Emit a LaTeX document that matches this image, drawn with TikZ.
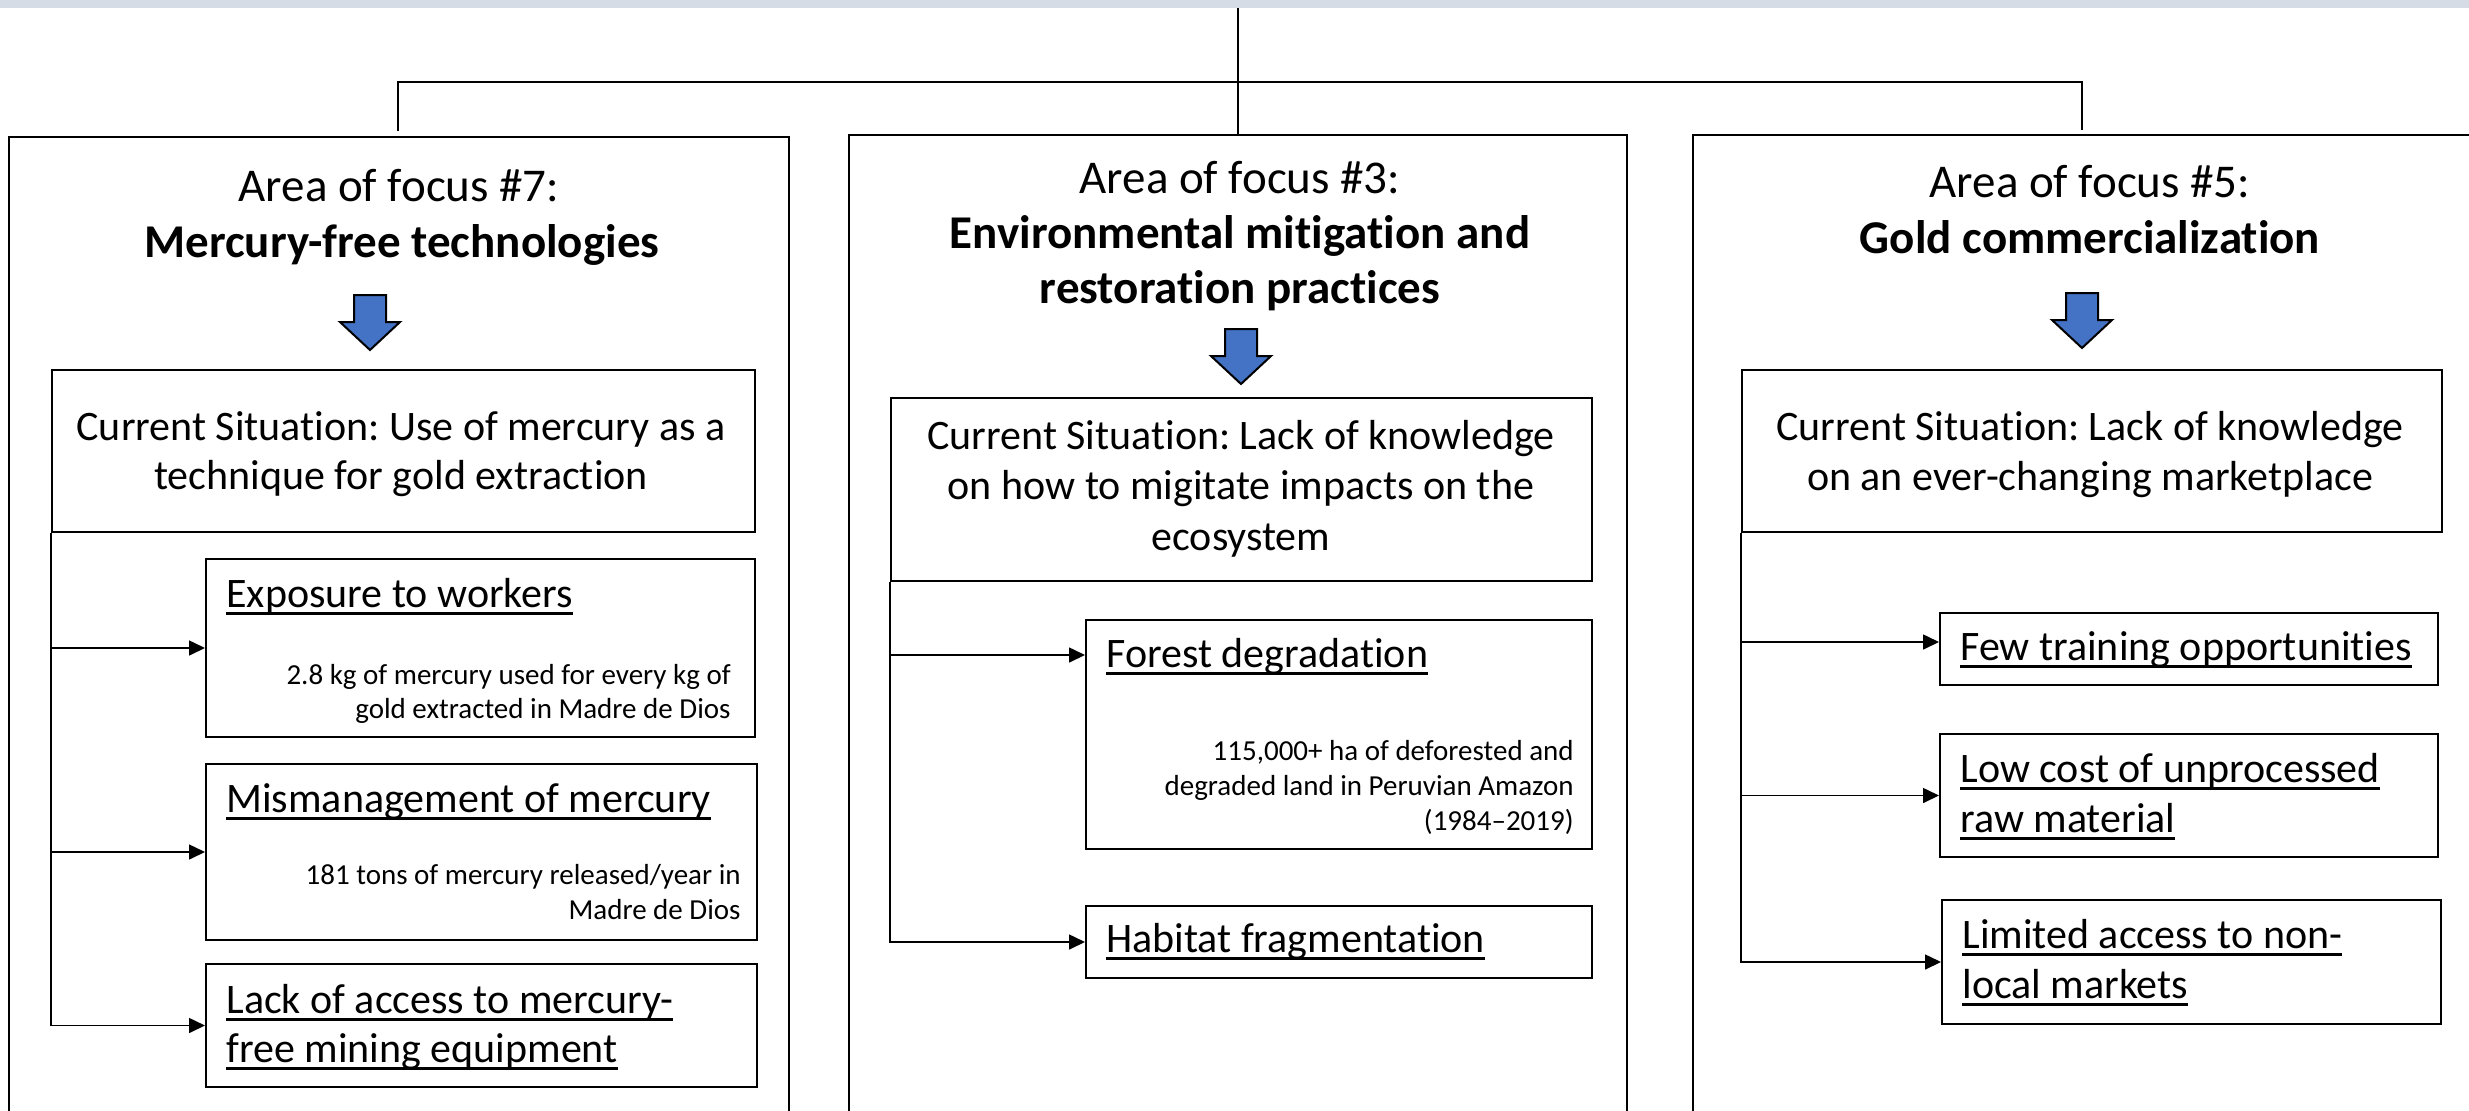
\documentclass[tikz,border=0pt]{standalone}
\usepackage{fontspec}
\setmainfont{Carlito}[Ligatures=NoCommon]
\usetikzlibrary{arrows.meta,fit,calc}
\definecolor{bandc}{HTML}{D6DCE5}
\definecolor{arrowblue}{HTML}{4472C4}
\newcommand{\ulx}[1]{\setbox0=\hbox{#1}\rlap{\rule[-0.2em]{\wd0}{0.07em}}\box0}
\frenchspacing
\begin{document}
\begin{tikzpicture}[x=0.5pt,y=-0.5pt,
  obox/.style={draw, line width=1.3pt, inner sep=0pt},
  csbox/.style={draw, line width=1.2pt, inner sep=0pt},
  subbox/.style={draw, line width=1pt, inner sep=0pt},
  tree/.style={line width=0.8pt},
  conn/.style={line width=0.8pt},
  conarrow/.style={-{Triangle[length=8pt,width=7.5pt]}},
  ttl/.style={font=\fontsize{23.5}{28}\selectfont, inner sep=0pt, anchor=base},
  ttb/.style={ttl, font=\fontsize{23.5}{28}\selectfont\bfseries},
  body/.style={font=\fontsize{21}{25}\selectfont, inner sep=0pt, anchor=base},
  hdr/.style={font=\fontsize{21}{25}\selectfont, inner sep=0pt, anchor=base west},
  smalltxt/.style={font=\fontsize{14.5}{17}\selectfont, inner sep=0pt, anchor=base east},
  dnarrow/.pic={\draw[fill=arrowblue, line width=1pt, line join=miter]
      (-16,0) -- (16,0) -- (16,27) -- (30,27) -- (0,55) -- (-30,27) -- (-16,27) -- cycle;}
]
\useasboundingbox (0,0) rectangle (2469,1110);
\clip (0,0) rectangle (2469,1110);
\fill[bandc] (0,0) rectangle (2469,8);

% outer boxes
\node[obox, fit={(9,137) (789,1140)}] (lbox) {};
\node[obox, fit={(849,135) (1627,1140)}] (mbox) {};
\node[obox, fit={(1693,135) (2520,1140)}] (rbox) {};

% tree
\coordinate (top) at (1238,8);
\coordinate (bar) at (1238,82);
\coordinate (lj) at (398,131);
\coordinate (rj) at (2082,130);
\draw[tree] (top) -- (mbox.north);
\draw[tree] (lj) |- (bar) -| (rj);

% ---------- left column ----------
\node[ttl] (lt1) at (399,201) {Area of focus \#7:};
\node[ttb] (lt2) at (402,257) {Mercury-free technologies};
\pic (la) at (370,295) {dnarrow};
\node[csbox, fit={(52,370) (755,532)}] (lcs) {};
\node[body] (lc1) at (401,440) {Current Situation: Use of mercury as a};
\node[body] (lc2) at (401,489) {technique for gold extraction};

\node[subbox, fit={(206,559) (755,737)}] (s11) {};
\node[hdr] (s11h) at (226,607) {\ulx{Exposure to workers}};
\node[smalltxt] (s11a) at (731,684) {2.8 kg of mercury used for every kg of};
\node[smalltxt] (s11b) at (731,718) {gold extracted in Madre de Dios};

\node[subbox, fit={(206,764) (757,940)}] (s12) {};
\node[hdr] (s12h) at (226,812) {\ulx{Mismanagement of mercury}};
\node[smalltxt] (s12a) at (741,884) {181 tons of mercury released/year in};
\node[smalltxt] (s12b) at (741,919) {Madre de Dios};

\node[subbox, fit={(206,964) (757,1087)}] (s13) {};
\node[hdr] (s13a) at (226,1013) {\ulx{Lack of access to mercury-}};
\node[hdr] (s13b) at (226,1062) {\ulx{free mining equipment}};

\draw[conn,conarrow] (lcs.south west) |- (s13.west);
\draw[conn,conarrow] (lcs.south west |- s11.west) -- (s11.west);
\draw[conn,conarrow] (lcs.south west |- s12.west) -- (s12.west);

% ---------- middle column ----------
\node[ttl] (mt1) at (1240,193) {Area of focus \#3:};
\node[ttb] (mt2) at (1240,248) {Environmental mitigation and};
\node[ttb] (mt3) at (1240,303) {restoration practices};
\pic (ma) at (1241,329) {dnarrow};
\node[csbox, fit={(891,398) (1592,581)}] (mcs) {};
\node[body] (mc1) at (1241,449) {Current Situation: Lack of knowledge};
\node[body] (mc2) at (1241,499) {on how to migitate impacts on the};
\node[body] (mc3) at (1241,550) {ecosystem};

\node[subbox, fit={(1086,620) (1592,849)}] (forest) {};
\node[hdr] (fh) at (1106,667) {\ulx{Forest degradation}};
\node[smalltxt] (fa1) at (1574,760) {115,000+ ha of deforested and};
\node[smalltxt] (fa2) at (1574,795) {degraded land in Peruvian Amazon};
\node[smalltxt] (fa3) at (1574,830) {(1984--2019)};

\node[subbox, fit={(1086,906) (1592,978)}] (habitat) {};
\node[hdr] (hh) at (1106,952) {\ulx{Habitat fragmentation}};

\coordinate (fin) at ($(forest.north west)+(0,36)$);
\draw[conn,conarrow] (mcs.south west) |- (habitat.west);
\draw[conn,conarrow] (mcs.south west |- fin) -- (fin);

% ---------- right column ----------
\node[ttl] (rt1) at (2090,197) {Area of focus \#5:};
\node[ttb] (rt2) at (2090,253) {Gold commercialization};
\pic (ra) at (2082,293) {dnarrow};
\node[csbox, fit={(1742,370) (2442,532)}] (rcs) {};
\node[body] (rc1) at (2090,440) {Current Situation: Lack of knowledge};
\node[body] (rc2) at (2090,490) {on an ever-changing marketplace};

\node[subbox, fit={(1940,613) (2438,685)}] (r1) {};
\node[hdr] (r1h) at (1960,660) {\ulx{Few training opportunities}};
\node[subbox, fit={(1940,734) (2438,857)}] (r2) {};
\node[hdr] (r2a) at (1960,782) {\ulx{Low cost of unprocessed}};
\node[hdr] (r2b) at (1960,832) {\ulx{raw material}};
\node[subbox, fit={(1942,900) (2441,1024)}] (r3) {};
\node[hdr] (r3a) at (1962,948) {\ulx{Limited access to non-}};
\node[hdr] (r3b) at (1962,998) {\ulx{local markets}};

\coordinate (r1in) at ($(r1.west)+(0,-7)$);
\draw[conn,conarrow] (rcs.south west) |- (r3.west);
\draw[conn,conarrow] (rcs.south west |- r1in) -- (r1in);
\draw[conn,conarrow] (rcs.south west |- r2.west) -- (r2.west);
\end{tikzpicture}
\end{document}
